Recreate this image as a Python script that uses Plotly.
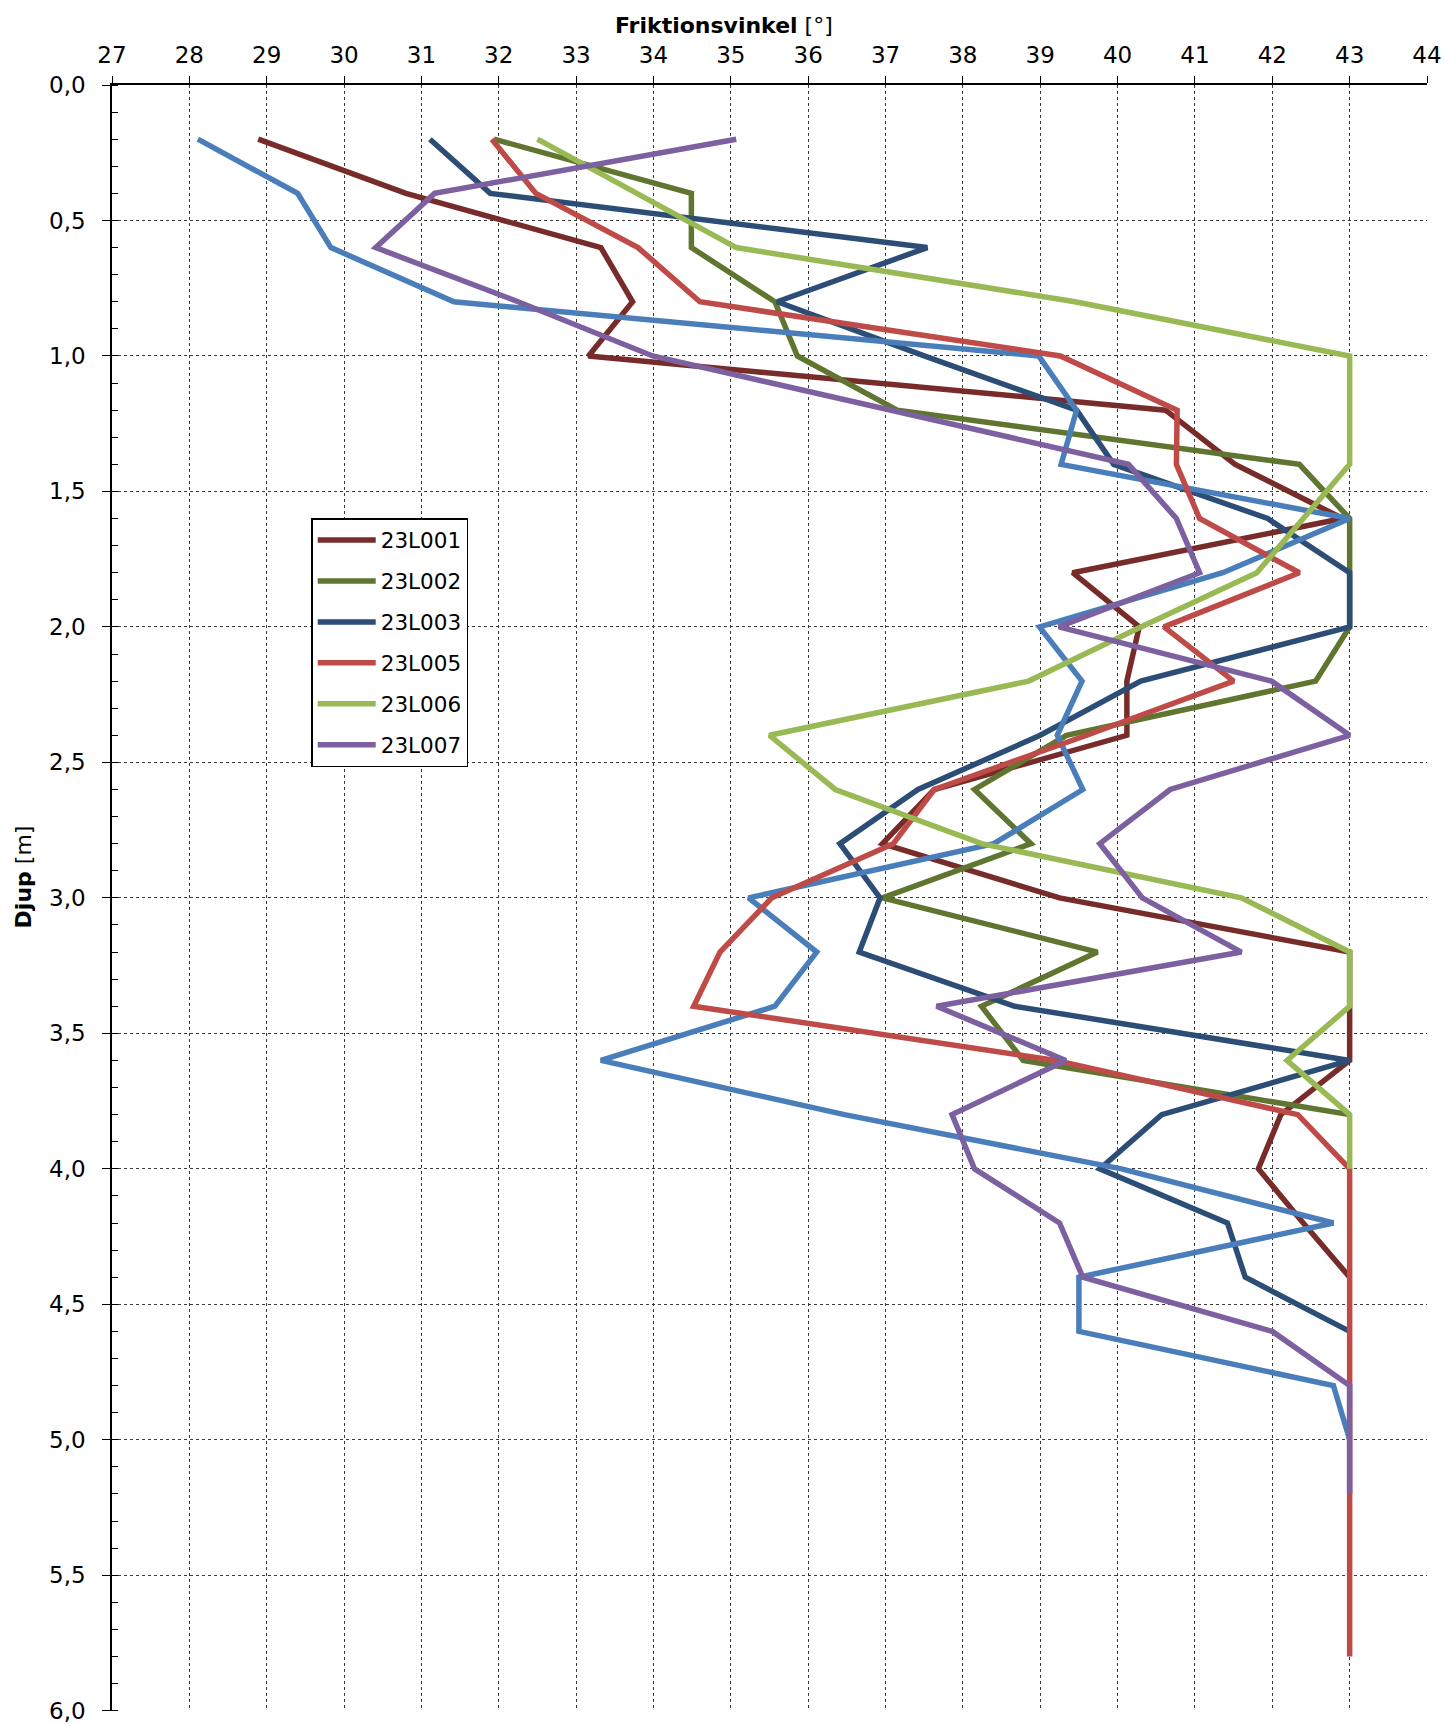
import plotly.graph_objects as go

# Depth values (m) – readings every 0.2 m
depth = [0.2, 0.4, 0.6, 0.8, 1.0, 1.2, 1.4, 1.6, 1.8, 2.0, 2.2, 2.4, 2.6, 2.8, 3.0,
         3.2, 3.4, 3.6, 3.8, 4.0, 4.2, 4.4, 4.6, 4.8, 5.0, 5.2, 5.4, 5.6, 5.8]

# Friction angle (degrees) per sounding
l001 = [28.89, 30.80, 33.32, 33.73, 33.16, 40.62, 41.52, 42.91, 39.42, 40.28, 40.12,
        40.12, 37.63, 36.96, 39.25, 43.0, 43.0, 43.0, 42.11, 41.82, 42.4, 43.0]
l002 = [31.94, 34.49, 34.49, 35.57, 35.86, 37.15, 42.35, 43.0, 43.0, 43.0, 42.56,
        39.34, 38.15, 38.88, 36.96, 39.74, 38.24, 38.78, 43.0]
l003 = [31.11, 31.89, 37.54, 35.60, 37.50, 39.47, 39.95, 41.94, 43.0, 43.0, 40.30,
        39.0, 37.42, 36.41, 36.93, 36.66, 38.67, 43.0, 40.57, 39.77, 41.42, 41.65, 43.0]
l004 = [28.11, 29.40, 29.83, 31.42, 38.98, 39.47, 39.27, 43.0, 41.36, 38.99, 39.54,
        39.22, 39.55, 38.40, 35.23, 36.11, 35.57, 33.32, 36.47, 40.05, 42.79, 39.50,
        39.50, 42.79, 43.0]
l005 = [31.91, 32.48, 33.80, 34.60, 39.26, 40.77, 40.76, 41.06, 42.35, 40.60, 41.50,
        39.60, 37.63, 37.10, 35.53, 34.86, 34.52, 39.20, 42.33, 43.0, 43.0, 43.0,
        43.0, 43.0, 43.0, 43.0, 43.0, 43.0, 43.0]
l006 = [32.50, 33.80, 35.07, 39.45, 43.0, 43.0, 43.0, 42.40, 41.80, 40.30, 38.85,
        35.50, 36.35, 38.24, 41.60, 43.0, 43.0, 42.19, 43.0, 43.0]
l007 = [35.07, 31.17, 30.41, 32.25, 33.99, 37.07, 40.14, 40.76, 41.06, 39.24, 41.99,
        43.0, 40.68, 39.77, 40.32, 41.60, 37.66, 39.33, 37.86, 38.15, 39.25, 39.55,
        42.0, 43.0, 43.0, 43.0]

names = ["23L001", "23L002", "23L003", "23L004", "23L005", "23L006", "23L007"]
series = [l001, l002, l003, l004, l005, l006, l007]
colors = ["#772C2A", "#5F7530", "#2C4D75", "#4A7EBB", "#BE4B48", "#98B954", "#7D60A0"]
in_legend = [True, True, True, False, True, True, True]

FONT = "DejaVu Sans, Verdana, sans-serif"

fig = go.Figure()
for name, vals, col, leg in zip(names, series, colors, in_legend):
    fig.add_trace(go.Scatter(
        x=vals, y=depth[:len(vals)], mode="lines", name=name,
        line=dict(color=col, width=5.5), showlegend=leg, legendgroup=name,
    ))

fig.update_layout(
    width=1445, height=1724,
    margin=dict(l=112, r=18, t=85, b=13, autoexpand=False),
    paper_bgcolor="white", plot_bgcolor="white",
    separators=",.",
    font=dict(family=FONT, size=23, color="black"),
    showlegend=True,
    legend=dict(
        x=0.1515, y=0.7337, xanchor="left", yanchor="top",
        bgcolor="white", bordercolor="black", borderwidth=1.5,
        font=dict(family=FONT, size=21.5, color="black"),
        tracegroupgap=10, entrywidth=148, itemwidth=58,
    ),
    xaxis=dict(
        side="top", range=[27, 44], dtick=1, tick0=27, automargin=False,
        showline=True, linecolor="black", linewidth=1.5, mirror=False,
        ticks="outside", ticklen=7, tickcolor="black",
        showgrid=True, gridcolor="#3a3a3a", griddash="dot", gridwidth=1,
        zeroline=False, ticklabelstandoff=4,
        tickfont=dict(family=FONT, size=23, color="black"),
    ),
    yaxis=dict(
        range=[6.001, 0], dtick=0.5, tick0=0, tickformat=".1f", automargin=False,
        showline=True, linecolor="black", linewidth=1.5, mirror=False,
        ticks="outside", ticklen=8, tickcolor="black",
        minor=dict(ticks="inside", ticklen=6, dtick=0.1, tickcolor="black", showgrid=False),
        showgrid=True, gridcolor="#3a3a3a", griddash="dot", gridwidth=1,
        zeroline=False, ticklabelstandoff=12,
        tickfont=dict(family=FONT, size=23, color="black"),
    ),
    annotations=[
        dict(text="<b>Friktionsvinkel</b> [°]", xref="paper", yref="paper",
             x=0.4654, y=1.0369, xanchor="center", yanchor="middle", showarrow=False,
             font=dict(family=FONT, size=22, color="black")),
        dict(text="<b>Djup</b> [m]", xref="paper", yref="paper", textangle=-90,
             x=-0.0674, y=0.5129, xanchor="center", yanchor="middle", showarrow=False,
             font=dict(family=FONT, size=22, color="black")),
    ],
)

fig.write_html(
    "out.html",
    config={"displayModeBar": False},
    post_script="document.body.style.margin='0';document.body.style.overflow='hidden';",
)
